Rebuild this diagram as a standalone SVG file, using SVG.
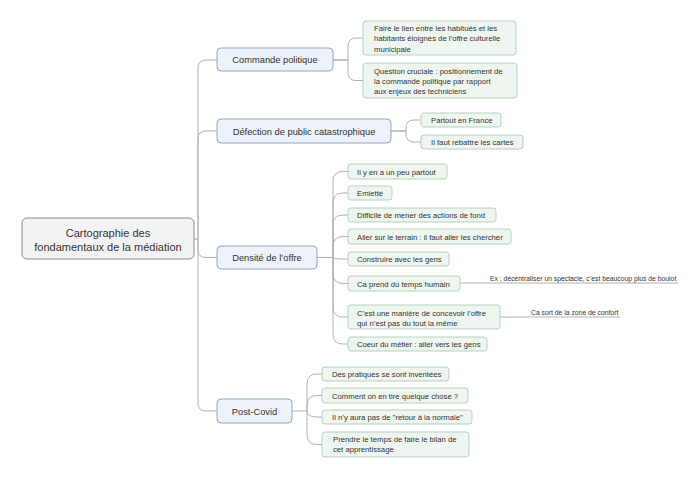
<svg xmlns="http://www.w3.org/2000/svg" width="700" height="478" viewBox="0 0 700 478">
<style>
text{font-family:"Liberation Sans",Arial,sans-serif;fill:#333}
.root rect{fill:#f3f3f3;stroke:#8a8a8a;stroke-width:1}
.root text{font-size:11px;text-anchor:middle}
.br rect{fill:#eef2fa;stroke:#93a5c3;stroke-width:1}
.br text{font-size:9.3px;text-anchor:middle}
.ch rect{fill:#eef6ef;stroke:#b6d2bd;stroke-width:1}
.ch text{font-size:7.7px}
.lb text{font-size:6.8px}
#connectors path{fill:none;stroke:#aab3bc;stroke-width:1}
</style>
<rect width="700" height="478" fill="#fff"/>
<g id="connectors">
<path d="M194,239 H198"/>
<path d="M198,239 V68 Q198,60 206,60 H217"/>
<path d="M198,239 V139 Q198,131 206,131 H217"/>
<path d="M198,239 V249.5 Q198,257.5 206,257.5 H217"/>
<path d="M198,239 V403 Q198,411 206,411 H217"/>
<path d="M333,60 H348 V46 Q348,38 356,38 H363"/>
<path d="M333,60 H348 V72.5 Q348,80.5 356,80.5 H363"/>
<path d="M391,131 H406 V128 Q406,120 414,120 H421"/>
<path d="M391,131 H406 V134 Q406,142 414,142 H421"/>
<path d="M317,257.5 H333 V181.5 Q333,171.5 343,171.5 H348"/>
<path d="M333,257.5 V203 Q333,193 343,193 H348"/>
<path d="M333,257.5 V225 Q333,215 343,215 H348"/>
<path d="M333,257.5 V246.5 Q333,236.5 343,236.5 H348"/>
<path d="M333,257.5 Q333,259 343,259 H348"/>
<path d="M333,257.5 V273.5 Q333,283.5 343,283.5 H348"/>
<path d="M333,257.5 V307 Q333,317 343,317 H348"/>
<path d="M333,257.5 V334 Q333,344 343,344 H348"/>
<path d="M292,411 H307 V384 Q307,374 317,374 H322"/>
<path d="M307,411 V405.5 Q307,395.5 317,395.5 H322"/>
<path d="M307,411 Q307,417 317,417 H322"/>
<path d="M307,411 V434.5 Q307,444.5 317,444.5 H322"/>
<path d="M460,283 H678"/>
<path d="M500,317 H620"/>
</g>
<g id="root" class="root">
<rect x="22" y="218" width="172" height="41" rx="5"/>
<text x="108" y="237">Cartographie des</text>
<text x="108" y="251">fondamentaux de la médiation</text>
</g>
<g id="b1" class="br"><rect x="217" y="48" width="116" height="23" rx="4"/><text x="275" y="63">Commande politique</text></g>
<g id="b2" class="br"><rect x="217" y="119" width="174" height="24" rx="4"/><text x="304" y="134.5">Défection de public catastrophique</text></g>
<g id="b3" class="br"><rect x="217" y="246" width="100" height="23" rx="4"/><text x="267" y="261">Densité de l’offre</text></g>
<g id="b4" class="br"><rect x="217" y="399" width="75" height="24" rx="4"/><text x="254.5" y="414.5">Post-Covid</text></g>

<g id="c1" class="ch"><rect x="363" y="21" width="153" height="34" rx="3"/>
<text x="374" y="31">Faire le lien entre les habitués et les</text>
<text x="374" y="41">habitants éloignés de l’offre culturelle</text>
<text x="374" y="52">municipale</text></g>
<g id="c2" class="ch"><rect x="363" y="63" width="154" height="35" rx="3"/>
<text x="374" y="74">Question cruciale : positionnement de</text>
<text x="374" y="84">la commande politique par rapport</text>
<text x="374" y="94">aux enjeux des techniciens</text></g>

<g id="c3" class="ch"><rect x="421" y="113" width="80" height="14" rx="3"/><text x="431" y="123">Partout en France</text></g>
<g id="c4" class="ch"><rect x="421" y="135" width="102" height="14" rx="3"/><text x="431" y="145">Il faut rebattre les cartes</text></g>

<g id="c5" class="ch"><rect x="348" y="164" width="99" height="15" rx="3"/><text x="357" y="174.5">Il y en a un peu partout</text></g>
<g id="c6" class="ch"><rect x="348" y="186" width="44" height="14" rx="3"/><text x="357" y="196">Emietté</text></g>
<g id="c7" class="ch"><rect x="348" y="208" width="148" height="14" rx="3"/><text x="357" y="218">Difficile de mener des actions de fond</text></g>
<g id="c8" class="ch"><rect x="348" y="229" width="163" height="15" rx="3"/><text x="357" y="239.5">Aller sur le terrain : il faut aller les chercher</text></g>
<g id="c9" class="ch"><rect x="348" y="252" width="101" height="14" rx="3"/><text x="357" y="262">Construire avec les gens</text></g>
<g id="c10" class="ch"><rect x="348" y="276" width="112" height="15" rx="3"/><text x="357" y="286.5">Ca prend du temps humain</text></g>
<g id="c11" class="ch"><rect x="348" y="305" width="152" height="24" rx="3"/>
<text x="357" y="316">C’est une manière de concevoir l’offre</text>
<text x="357" y="326">qui n’est pas du tout la même</text></g>
<g id="c12" class="ch"><rect x="348" y="337" width="139" height="14" rx="3"/><text x="357" y="347">Coeur du métier : aller vers les gens</text></g>

<g id="l1" class="lb"><text x="490" y="281">Ex : décentraliser un spectacle, c’est beaucoup plus de boulot</text></g>
<g id="l2" class="lb"><text x="531" y="315">Ca sort de la zone de confort</text></g>

<g id="c13" class="ch"><rect x="322" y="367" width="127" height="14" rx="3"/><text x="332" y="377">Des pratiques se sont inventées</text></g>
<g id="c14" class="ch"><rect x="322" y="388" width="146" height="15" rx="3"/><text x="332" y="398.5">Comment on en tire quelque chose ?</text></g>
<g id="c15" class="ch"><rect x="322" y="410" width="150" height="14" rx="3"/><text x="332" y="420">Il n’y aura pas de "retour à la normale"</text></g>
<g id="c16" class="ch"><rect x="322" y="432" width="147" height="25" rx="3"/>
<text x="333" y="442">Prendre le temps de faire le bilan de</text>
<text x="333" y="452">cet apprentissage</text></g>
</svg>
